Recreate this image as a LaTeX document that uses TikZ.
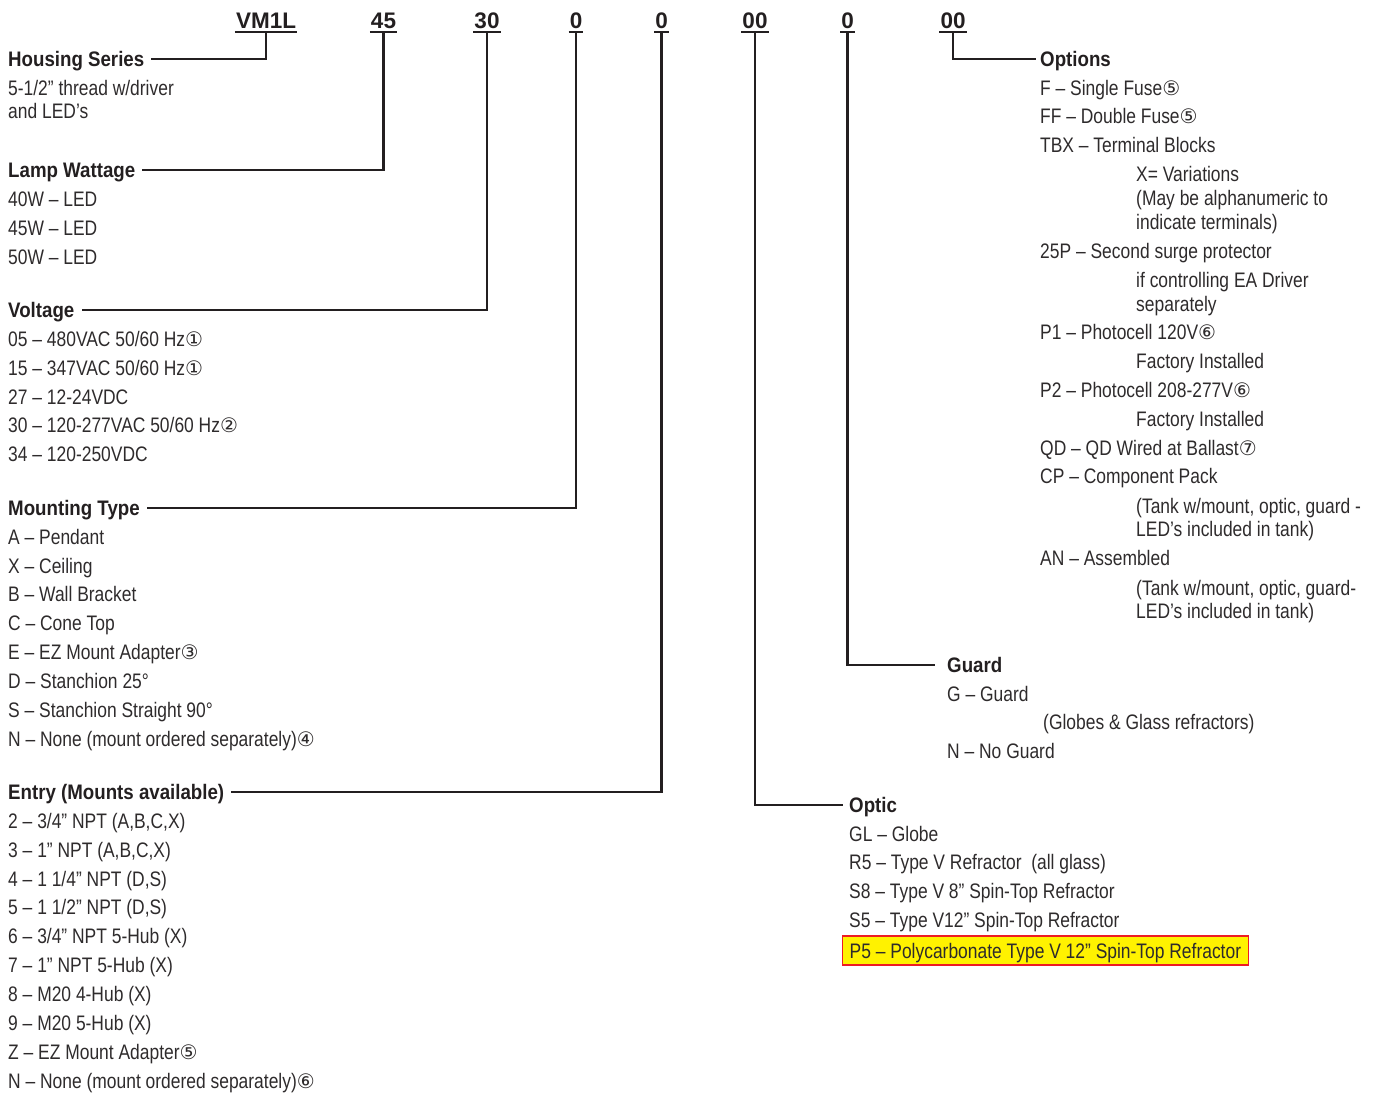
\documentclass[tikz,border=0pt]{standalone}
\usepackage{fontspec}
\newfontfamily\bodyff{Liberation Sans}[FakeStretch=0.83]
\newfontfamily\ttlff{Liberation Sans}[FakeStretch=0.89]
\newfontfamily\cdff{Liberation Sans}
\newfontfamily\circff{DejaVu Sans}
\newcommand\bodyfnt{\bodyff\fontsize{21}{25}\selectfont}
\newcommand\ttlfnt{\ttlff\bfseries\fontsize{21}{25}\selectfont}
\newcommand\cdfnt{\cdff\bfseries\fontsize{22.5}{26}\selectfont}
\newcommand\cn[1]{{\circff\fontsize{20}{22}\selectfont #1}}
\definecolor{ink}{HTML}{231F20}
\definecolor{body}{HTML}{2E2B2C}
\definecolor{hiyel}{HTML}{FFF200}
\definecolor{hired}{HTML}{ED1C24}
\tikzset{
  txt/.style={anchor=west, inner sep=0pt, text height=15pt, text depth=0pt, font=\bodyfnt, text=body},
  ttl/.style={txt, font=\ttlfnt, text=ink},
  code/.style={anchor=base, inner xsep=1pt, inner ysep=0pt, text depth=3.5pt, font=\cdfnt, text=ink},
  conn/.style={draw=ink, line width=2.6pt},
  uline/.style={draw=ink, line width=2pt},
  hibox/.style={txt, fill=hiyel, draw=hired, line width=1.4pt, inner xsep=7pt, inner ysep=7pt}
}
\begin{document}
\begin{tikzpicture}[x=1pt,y=-1pt]
\useasboundingbox (0,0) rectangle (1375,1093);
% ---- code row ----
\node[code] (cVM) at (266,28) {VM1L};
\node[code] (cLW) at (383.5,28) {45};
\node[code] (cVO) at (487,28) {30};
\node[code] (cMT) at (576,28) {0};
\node[code] (cEN) at (661.5,28) {0};
\node[code] (cOP) at (755,28) {00};
\node[code] (cGU) at (847.5,28) {0};
\node[code] (cOT) at (953,28) {00};
\foreach \c in {cVM,cLW,cVO,cMT,cEN,cOP,cGU,cOT}
  \draw[uline] (\c.south west) -- (\c.south east);
% ---- Housing Series ----
\node[ttl] (hs) at (8,59) {Housing Series};
\node[txt] (hs1) at (8,88) {5-1/2” thread w/driver};
\node[txt] (hs2) at (8,111) {and LED’s};
% ---- Lamp Wattage ----
\node[ttl] (lw) at (8,170) {Lamp Wattage};
\node[txt] (lw1) at (8,199) {40W – LED};
\node[txt] (lw2) at (8,228) {45W – LED};
\node[txt] (lw3) at (8,257) {50W – LED};
% ---- Voltage ----
\node[ttl] (vo) at (8,310) {Voltage};
\node[txt] (vo1) at (8,339) {05 – 480VAC 50/60 Hz\cn{①}};
\node[txt] (vo2) at (8,368) {15 – 347VAC 50/60 Hz\cn{①}};
\node[txt] (vo3) at (8,397) {27 – 12-24VDC};
\node[txt] (vo4) at (8,425) {30 – 120-277VAC 50/60 Hz\cn{②}};
\node[txt] (vo5) at (8,454) {34 – 120-250VDC};
% ---- Mounting Type ----
\node[ttl] (mt) at (8,508) {Mounting Type};
\node[txt] (mt1) at (8,537) {A – Pendant};
\node[txt] (mt2) at (8,566) {X – Ceiling};
\node[txt] (mt3) at (8,594) {B – Wall Bracket};
\node[txt] (mt4) at (8,623) {C – Cone Top};
\node[txt] (mt5) at (8,652) {E – EZ Mount Adapter\cn{③}};
\node[txt] (mt6) at (8,681) {D – Stanchion 25°};
\node[txt] (mt7) at (8,710) {S – Stanchion Straight 90°};
\node[txt] (mt8) at (8,739) {N – None (mount ordered separately)\cn{④}};
% ---- Entry ----
\node[ttl] (en) at (8,792) {Entry (Mounts available)};
\node[txt] (en1) at (8,821) {2 – 3/4” NPT (A,B,C,X)};
\node[txt] (en2) at (8,850) {3 – 1” NPT (A,B,C,X)};
\node[txt] (en3) at (8,879) {4 – 1 1/4” NPT (D,S)};
\node[txt] (en4) at (8,907) {5 – 1 1/2” NPT (D,S)};
\node[txt] (en5) at (8,936) {6 – 3/4” NPT 5-Hub (X)};
\node[txt] (en6) at (8,965) {7 – 1” NPT 5-Hub (X)};
\node[txt] (en7) at (8,994) {8 – M20 4-Hub (X)};
\node[txt] (en8) at (8,1023) {9 – M20 5-Hub (X)};
\node[txt] (en9) at (8,1052) {Z – EZ Mount Adapter\cn{⑤}};
\node[txt] (en10) at (8,1081) {N – None (mount ordered separately)\cn{⑥}};
% ---- Options ----
\node[ttl] (ot) at (1040,59) {Options};
\node[txt] (ot1) at (1040,88) {F – Single Fuse\cn{⑤}};
\node[txt] (ot2) at (1040,116) {FF – Double Fuse\cn{⑤}};
\node[txt] (ot3) at (1040,145) {TBX – Terminal Blocks};
\node[txt] (ot3a) at (1136,174) {X= Variations};
\node[txt] (ot3b) at (1136,198) {(May be alphanumeric to};
\node[txt] (ot3c) at (1136,222) {indicate terminals)};
\node[txt] (ot4) at (1040,251) {25P – Second surge protector};
\node[txt] (ot4a) at (1136,280) {if controlling EA Driver};
\node[txt] (ot4b) at (1136,304) {separately};
\node[txt] (ot5) at (1040,332) {P1 – Photocell 120V\cn{⑥}};
\node[txt] (ot5a) at (1136,361) {Factory Installed};
\node[txt] (ot6) at (1040,390) {P2 – Photocell 208-277V\cn{⑥}};
\node[txt] (ot6a) at (1136,419) {Factory Installed};
\node[txt] (ot7) at (1040,448) {QD – QD Wired at Ballast\cn{⑦}};
\node[txt] (ot8) at (1040,476) {CP – Component Pack};
\node[txt] (ot8a) at (1136,506) {(Tank w/mount, optic, guard -};
\node[txt] (ot8b) at (1136,529) {LED’s included in tank)};
\node[txt] (ot9) at (1040,558) {AN – Assembled};
\node[txt] (ot9a) at (1136,588) {(Tank w/mount, optic, guard-};
\node[txt] (ot9b) at (1136,611) {LED’s included in tank)};
% ---- Guard ----
\node[ttl] (gu) at (947,665) {Guard};
\node[txt] (gu1) at (947,694) {G – Guard};
\node[txt] (gu1a) at (1043,722) {(Globes \& Glass refractors)};
\node[txt] (gu2) at (947,751) {N – No Guard};
% ---- Optic ----
\node[ttl] (op) at (849,805) {Optic};
\node[txt] (op1) at (849,834) {GL – Globe};
\node[txt] (op2) at (849,862) {R5 – Type V Refractor\ \ (all glass)};
\node[txt] (op3) at (849,891) {S8 – Type V 8” Spin-Top Refractor};
\node[txt] (op4) at (849,920) {S5 – Type V12” Spin-Top Refractor};
\node[hibox] (op5) at (842,950.5) {\makebox[392pt][l]{P5 – Polycarbonate Type V 12” Spin-Top Refractor}};
% ---- connectors ----
\draw[conn] (cVM.south) |- ([xshift=7pt]hs.east);
\draw[conn] (cLW.south) |- ([xshift=7pt]lw.east);
\draw[conn] (cVO.south) |- ([xshift=7pt]vo.east);
\draw[conn] (cMT.south) |- ([xshift=7pt]mt.east);
\draw[conn] (cEN.south) |- ([xshift=7pt]en.east);
\draw[conn] (cOP.south) |- ([xshift=-6pt]op.west);
\draw[conn] (cGU.south) |- ([xshift=-12pt]gu.west);
\draw[conn] (cOT.south) |- ([xshift=-4pt]ot.west);
\end{tikzpicture}
\end{document}
